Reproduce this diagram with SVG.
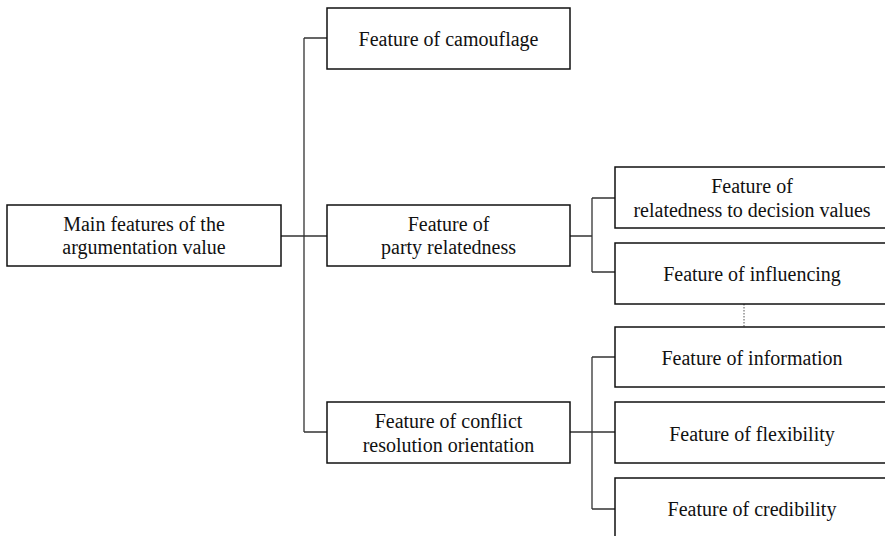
<svg xmlns="http://www.w3.org/2000/svg" width="885" height="536" viewBox="0 0 885 536">
<style>
.box{fill:#fff;stroke:#111;stroke-width:1.5}
.t{font-family:'Liberation Serif',serif;font-size:20px;fill:#111;text-anchor:middle}
.c{fill:none;stroke:#333;stroke-width:1.3}
.d{fill:none;stroke:#555;stroke-width:1;stroke-dasharray:1.5 1.5}
</style>
<rect width="885" height="536" fill="#fff"/>
<g id="connectors">
<path class="c" d="M281 236H327M304 38V432M304 38H327M304 432H327"/>
<path class="c" d="M570 236H592M592 198V272M592 198H615M592 272H615"/>
<path class="c" d="M570 432H615M592 357V509M592 357H615M592 509H615"/>
<path class="d" d="M744 304V327"/>
</g>
<g id="main"><rect class="box" x="7" y="205" width="274" height="61"/><text class="t" x="144" y="231">Main features of the</text><text class="t" x="144" y="254">argumentation value</text></g>
<g id="camouflage"><rect class="box" x="327" y="8" width="243" height="61"/><text class="t" x="448.5" y="46">Feature of camouflage</text></g>
<g id="party"><rect class="box" x="327" y="205" width="243" height="61"/><text class="t" x="448.5" y="231">Feature of</text><text class="t" x="448.5" y="254">party relatedness</text></g>
<g id="conflict"><rect class="box" x="327" y="402" width="243" height="61"/><text class="t" x="448.5" y="428">Feature of conflict</text><text class="t" x="448.5" y="452">resolution orientation</text></g>
<g id="decision"><rect class="box" x="615" y="167" width="274" height="61"/><text class="t" x="752" y="193">Feature of</text><text class="t" x="752" y="217">relatedness to decision values</text></g>
<g id="influencing"><rect class="box" x="615" y="243" width="274" height="61"/><text class="t" x="752" y="281">Feature of influencing</text></g>
<g id="information"><rect class="box" x="615" y="327" width="274" height="60"/><text class="t" x="752" y="365">Feature of information</text></g>
<g id="flexibility"><rect class="box" x="615" y="402" width="274" height="61"/><text class="t" x="752" y="441">Feature of flexibility</text></g>
<g id="credibility"><rect class="box" x="615" y="478" width="274" height="70"/><text class="t" x="752" y="516">Feature of credibility</text></g>
</svg>
